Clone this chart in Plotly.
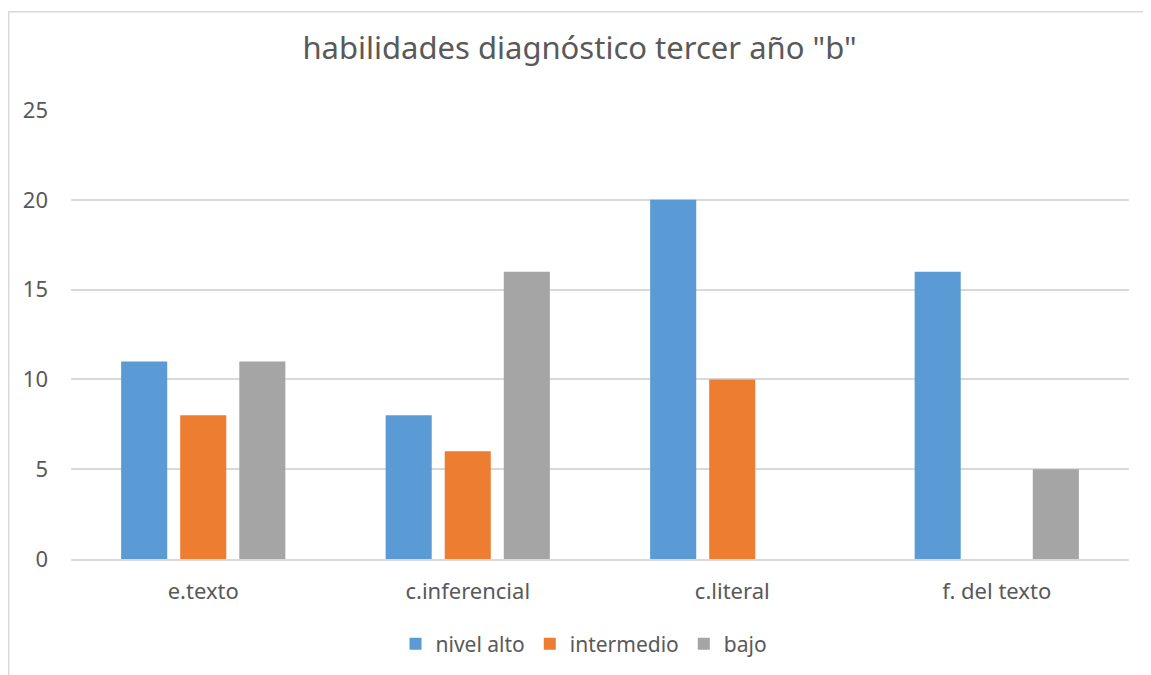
import plotly.graph_objects as go

categories = ["e.texto", "c.inferencial", "c.literal", "f. del texto"]
nivel_alto = [11, 8, 20, 16]
intermedio = [8, 6, 10, 0]
bajo = [11, 16, 0, 5]
series_names = ["nivel alto", "intermedio", "bajo"]
colors = ["#5B9BD5", "#ED7D31", "#A5A5A5"]
y_ticks = [0, 5, 10, 15, 20, 25]

FONT = "Noto Sans"
TXT = "#595959"

fig = go.Figure()
for name, vals, col in zip(series_names, [nivel_alto, intermedio, bajo], colors):
    fig.add_trace(go.Bar(x=categories, y=vals, name=name, marker_color=col,
                         marker_line_width=0))

# page has an 8px body margin
OFF = 8
W, H = 1151 - OFF, 675 - OFF
L, R, T, B = 71 - OFF, 22, 110 - OFF, 115
pw, ph = W - L - R, H - T - B

fig.update_layout(
    width=W, height=H,
    margin=dict(l=L, r=R, t=T, b=B),
    paper_bgcolor="white", plot_bgcolor="white",
    barmode="group", bargap=0.33, bargroupgap=0.22,
    title=dict(text='habilidades diagnóstico tercer año "b"', x=0.5, xanchor="center",
               y=1 - (48 - OFF) / H, yanchor="middle",
               font=dict(family=FONT, size=31, color=TXT)),
    font=dict(family=FONT, size=22, color=TXT),
    legend=dict(orientation="h", x=0.5 - 16 / pw, xanchor="center", y=-84 / ph,
                yanchor="middle",
                font=dict(family=FONT, size=21, color=TXT), itemwidth=30,
                traceorder="normal"),
    xaxis=dict(showgrid=False, showline=True, linecolor="#D9D9D9", linewidth=1.5,
               ticks="", ticklabelstandoff=12,
               tickfont=dict(family=FONT, size=22, color=TXT)),
    yaxis=dict(range=[0, 25], tickvals=y_ticks, showgrid=True, gridcolor="#D9D9D9",
               gridwidth=1.5, zeroline=False, showline=False, ticks="",
               ticklabelstandoff=22,
               tickfont=dict(family=FONT, size=22, color=TXT)),
    shapes=[dict(type="rect", xref="paper", yref="paper",
                 x0=(0.75 - L) / pw, x1=(W + 30 - L) / pw,
                 y0=-(B + 30) / ph, y1=(560 - 11.5) / ph,
                 line=dict(color="#D9D9D9", width=1.5), fillcolor="rgba(0,0,0,0)",
                 layer="below")],
)

fig.write_html("out.html")
